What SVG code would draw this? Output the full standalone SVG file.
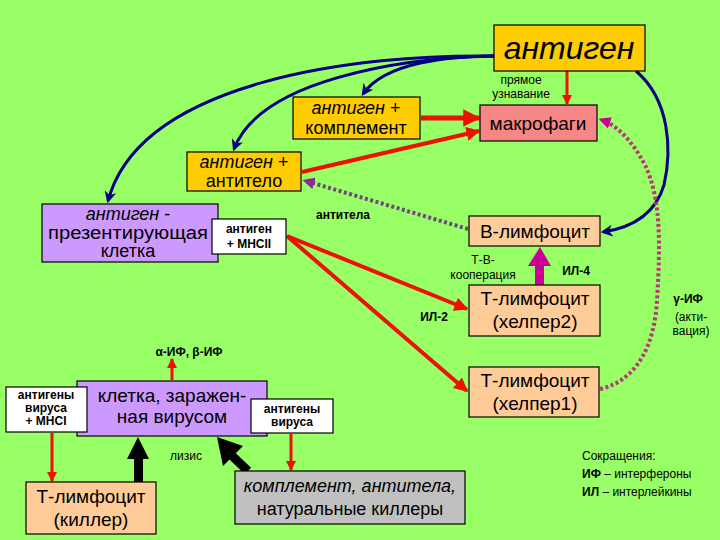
<svg xmlns="http://www.w3.org/2000/svg" width="720" height="540" viewBox="0 0 720 540">
<style>
text{font-family:"Liberation Sans",Arial,sans-serif;fill:#000;text-anchor:middle}
.box{stroke:#000;stroke-width:1.2}
.gold{fill:#FFCC00}.pink{fill:#F78686}.peach{fill:#FFCC99}.purple{fill:#CC99FF}.grey{fill:#C0C0C0}.white{fill:#fff}
.t19{font-size:19px}.t18{font-size:18px}.t20{font-size:18px}
.it{font-style:italic}
.sb{font-size:12px;font-weight:bold}
.sm{font-size:12px}
.blue{fill:none;stroke:#000080;stroke-width:3}
.red{fill:none;stroke:#EE1100}
.dot1{fill:none;stroke:#6E4A7A;stroke-width:4;stroke-dasharray:3 2.5}
.dot2{fill:none;stroke:#B53A78;stroke-width:4;stroke-dasharray:3 2.5}
</style>
<defs>
<marker id="ab" viewBox="0 0 10 10" refX="8" refY="5" markerWidth="4" markerHeight="4" orient="auto" markerUnits="strokeWidth"><path d="M0,0 L10,5 L0,10 L3,5z" fill="#000080"/></marker>
<marker id="ar" viewBox="0 0 10 10" refX="9" refY="5" markerWidth="3.5" markerHeight="3.5" orient="auto" markerUnits="strokeWidth"><path d="M0,0 L10,5 L0,10z" fill="#EE1100"/></marker>
<marker id="ap" viewBox="0 0 10 10" refX="7" refY="5" markerWidth="3" markerHeight="3" orient="auto" markerUnits="strokeWidth"><path d="M0,0 L10,5 L0,10z" fill="#CC0099"/></marker>
<marker id="ap2" viewBox="0 0 10 10" refX="7" refY="5" markerWidth="3" markerHeight="3" orient="auto" markerUnits="strokeWidth"><path d="M0,0 L10,5 L0,10z" fill="#8A2B9A"/></marker>
</defs>
<rect x="0" y="0" width="720" height="540" fill="#99FF66"/>

<g id="connectors">
<path class="blue" d="M494,56 C450,56 385,62 363,94" marker-end="url(#ab)"/>
<path class="blue" d="M494,56 C400,58 260,80 234,149" marker-end="url(#ab)"/>
<path class="blue" d="M494,56 C360,54 140,80 108,201" marker-end="url(#ab)"/>
<path class="blue" d="M636,71 C670,100 672,150 664,185 C655,215 630,228 603,232" marker-end="url(#ab)"/>
<path class="red" stroke-width="3" d="M567,71 L567,104" marker-end="url(#ar)"/>
<path class="red" stroke-width="5" d="M421,118 L479,118" marker-end="url(#ar)"/>
<path class="red" stroke-width="4" d="M302,172 L479,131" marker-end="url(#ar)"/>
<path class="red" stroke-width="4" d="M287,236 L467,309" marker-end="url(#ar)"/>
<path class="red" stroke-width="4" d="M287,236 L467,391" marker-end="url(#ar)"/>
<path class="red" stroke-width="3" d="M172,380 L172,359" marker-end="url(#ar)"/>
<path class="red" stroke-width="3" d="M52,433 L52,481" marker-end="url(#ar)"/>
<path class="red" stroke-width="3" d="M291,434 L291,470" marker-end="url(#ar)"/>
<path class="dot1" d="M468,229 L306,181" marker-end="url(#ap2)"/>
<path class="dot2" d="M600,389 C640,380 655,340 657,300 C660,250 662,200 645,165 C632,140 616,125 602,120" marker-end="url(#ap)"/>
<rect x="535" y="264" width="9" height="21" fill="#CC0099"/>
<polygon points="528,266 551,266 540,247" fill="#CC0099"/>
<rect x="134" y="456" width="9" height="26" fill="#000"/>
<polygon points="127,459 149,459 138,437" fill="#000"/>
<line x1="248" y1="471" x2="228" y2="452" stroke="#000" stroke-width="9"/>
<polygon points="217,437 223,466 243,446" fill="#000"/>
</g>

<g id="antigen"><rect class="box gold" x="494" y="25" width="151" height="46"/><text class="it" x="569" y="59" font-size="32">антиген</text></g>
<g id="ag-complement"><rect class="box gold" x="293" y="97" width="127" height="42"/><text class="t18" x="356" y="114"><tspan class="it">антиген</tspan> +</text><text class="t18" x="356" y="134">комплемент</text></g>
<g id="macrophages"><rect class="box pink" x="480" y="105" width="117" height="36"/><text class="t19" x="538" y="130">макрофаги</text></g>
<g id="ag-antibody"><rect class="box gold" x="187" y="152" width="114" height="39"/><text class="t18" x="244" y="168"><tspan class="it">антиген</tspan> +</text><text class="t18" x="244" y="187">антитело</text></g>
<g id="apc"><rect class="box purple" x="42" y="204" width="176" height="58"/><text class="t20" x="128" y="220"><tspan class="it">антиген</tspan> -</text><text class="t20" x="128" y="239" textLength="160" lengthAdjust="spacingAndGlyphs">презентирующая</text><text class="t20" x="128" y="257">клетка</text></g>
<g id="mhcii"><rect class="box white" x="212" y="219" width="74" height="35"/><text class="sb" x="249" y="233">антиген</text><text class="sb" x="249" y="248">+ MHCII</text></g>
<g id="b-lymph"><rect class="box peach" x="469" y="216" width="131" height="30"/><text class="t19" x="535" y="238">В-лимфоцит</text></g>
<g id="th2"><rect class="box peach" x="469" y="285" width="131" height="51"/><text class="t19" x="535" y="305">Т-лимфоцит</text><text class="t19" x="535" y="328">(хелпер2)</text></g>
<g id="th1"><rect class="box peach" x="469" y="367" width="130" height="50"/><text class="t19" x="535" y="387">Т-лимфоцит</text><text class="t19" x="535" y="410">(хелпер1)</text></g>
<g id="infected"><rect class="box purple" x="77" y="381" width="190" height="55"/><text class="t19" x="172" y="402">клетка, заражен-</text><text class="t19" x="172" y="423">ная вирусом</text></g>
<g id="mhci"><rect class="box white" x="6" y="387" width="81" height="45"/><text class="sb" x="46" y="399">антигены</text><text class="sb" x="46" y="412">вируса</text><text class="sb" x="46" y="425">+ MHCI</text></g>
<g id="vir-ag"><rect class="box white" x="251" y="399" width="82" height="34"/><text class="sb" x="292" y="413">антигены</text><text class="sb" x="292" y="426">вируса</text></g>
<g id="killer"><rect class="box peach" x="26" y="482" width="130" height="52"/><text class="t19" x="91" y="503">Т-лимфоцит</text><text class="t19" x="91" y="526">(киллер)</text></g>
<g id="complement-nk"><rect class="box grey" x="235" y="471" width="230" height="53"/><text class="t18 it" x="350" y="492">комплемент, антитела,</text><text class="t18" x="350" y="515">натуральные киллеры</text></g>

<g id="labels">
<text class="sm" x="521" y="84">прямое</text>
<text class="sm" x="521" y="98">узнавание</text>
<text class="sb" x="343" y="219">антитела</text>
<text class="sm" x="483" y="264">Т-В-</text>
<text class="sm" x="483" y="279">кооперация</text>
<text class="sb" x="576" y="275">ИЛ-4</text>
<text class="sb" x="434" y="321">ИЛ-2</text>
<text class="sb" x="688" y="303">γ-ИФ</text>
<text class="sm" x="691" y="321">(акти-</text>
<text class="sm" x="691" y="335">вация)</text>
<text class="sb" x="189" y="356">α-ИФ, β-ИФ</text>
<text class="sm" x="186" y="460">лизис</text>
<text class="sm" x="582" y="460" style="text-anchor:start">Сокращения:</text>
<text class="sm" x="582" y="478" style="text-anchor:start"><tspan font-weight="bold">ИФ</tspan> – интерфероны</text>
<text class="sm" x="582" y="496" style="text-anchor:start"><tspan font-weight="bold">ИЛ</tspan> – интерлейкины</text>
</g>
</svg>
